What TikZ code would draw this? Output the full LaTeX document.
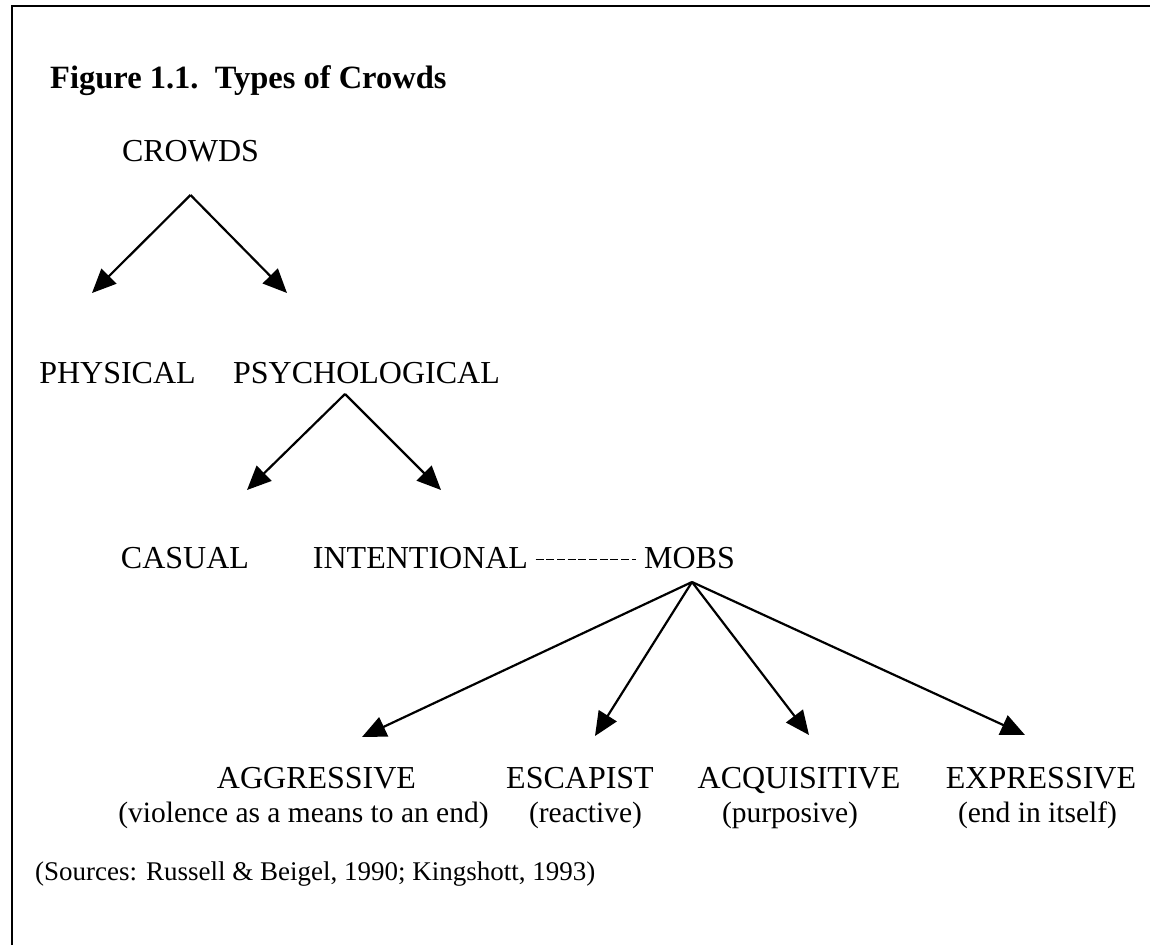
\documentclass[tikz,border=0pt]{standalone}
\usepackage{fontspec}
\setmainfont{Liberation Serif}
\usetikzlibrary{arrows.meta}
\begin{document}
\begin{tikzpicture}[x=1pt,y=-1pt,
  lbl/.style={inner sep=0pt,anchor=base,font=\fontsize{32}{38}\selectfont},
  sub/.style={inner sep=0pt,anchor=base,font=\fontsize{29.5}{35}\selectfont},
  arr/.style={line width=2.2pt,-{Triangle[length=24pt,width=21pt]}},
  dashline/.style={line width=1.5pt,dash pattern=on 8pt off 2.67pt}]
\useasboundingbox (0,0) rectangle (1150,945);
% frame
\draw[line width=2pt] (12,945) -- (12,6) -- (1150,6);
% title
\node[inner sep=0pt,anchor=base west,font=\fontsize{32.5}{38}\selectfont\bfseries] (title) at (50,88) {Figure 1.1.\ \ Types of Crowds};
% labels
\node[lbl] (crowds) at (190.5,161) {CROWDS};
\node[lbl] (physical) at (117.5,383) {PHYSICAL};
\node[lbl] (psych) at (366.5,383) {PSYCHOLOGICAL};
\node[lbl] (casual) at (185,568) {CASUAL};
\node[lbl] (intent) at (420.5,568) {INTENTIONAL};
\node[lbl] (mobs) at (689.5,568) {MOBS};
\node[lbl] (agg) at (316.5,788) {AGGRESSIVE};
\node[sub] (aggsub) at (303.5,822) {(violence as a means to an end)};
\node[lbl] (esc) at (580,788) {ESCAPIST};
\node[sub] (escsub) at (585.5,822) {(reactive)};
\node[lbl] (acq) at (799,788) {ACQUISITIVE};
\node[sub] (acqsub) at (790,822) {(purposive)};
\node[lbl] (exp) at (1041,788) {EXPRESSIVE};
\node[sub] (expsub) at (1037.5,822) {(end in itself)};
\node[inner sep=0pt,anchor=base west,font=\fontsize{27}{32}\selectfont] (src) at (35,880) {(Sources: Russell \& Beigel, 1990; Kingshott, 1993)};
% arrow start points below the parent labels
\coordinate (a1) at ([yshift=-34pt]crowds.base);
\coordinate (a2) at ([xshift=-21.5pt,yshift=-11pt]psych.base);
\coordinate (a3) at ([xshift=2.5pt,yshift=-14pt]mobs.base);
% arrow tips above the child labels
\coordinate (t1) at (92,293);
\coordinate (t2) at (287,293);
\coordinate (t3) at (247,490);
\coordinate (t4) at (441,490);
\coordinate (t5) at (362,737);
\coordinate (t6) at (595,736);
\coordinate (t7) at (809,735);
\coordinate (t8) at (1025,735);
\draw[arr] (a1) -- (t1);
\draw[arr] (a1) -- (t2);
\draw[arr] (a2) -- (t3);
\draw[arr] (a2) -- (t4);
\draw[arr] (a3) -- (t5);
\draw[arr] (a3) -- (t6);
\draw[arr] (a3) -- (t7);
\draw[arr] (a3) -- (t8);
% dashed link
\draw[dashline] ([xshift=7.5pt,yshift=8.5pt]intent.base east) -- ([xshift=-8pt,yshift=8.5pt]mobs.base west);
\end{tikzpicture}
\end{document}
